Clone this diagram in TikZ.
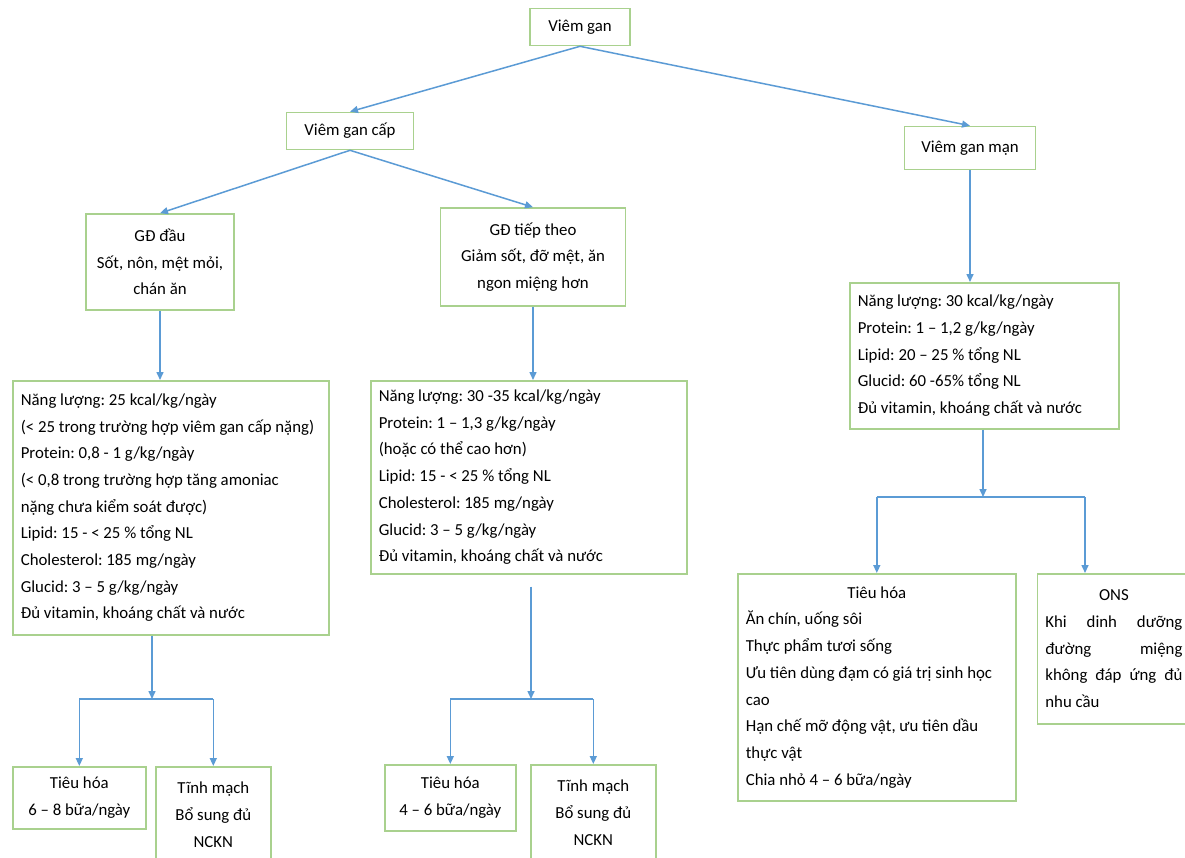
\documentclass[tikz,border=0pt]{standalone}
\usepackage{fontspec}
\setmainfont{Carlito}
\usetikzlibrary{arrows.meta, positioning}
\definecolor{boxgreen}{HTML}{A9D18E}
\definecolor{lineblue}{HTML}{5B9BD5}
\tikzstyle{block} = [rectangle, draw=boxgreen, line width=1.6pt, align=center, inner xsep=8pt, inner ysep=4pt, font=\fontsize{16.8}{26.7}\selectfont, text=black, execute at begin node={\spaceskip=0pt\xspaceskip=0pt\frenchspacing}]
\tikzstyle{infobox} = [block, align=left, anchor=north west]
\tikzstyle{arrow} = [draw=lineblue, line width=1.5pt, -{Triangle[length=8pt,width=7pt]}]
\tikzstyle{link} = [draw=lineblue, line width=1.5pt]

\begin{document}
\begin{tikzpicture}[x=1pt, y=-1pt]
  \useasboundingbox (0,0) rectangle (1185,857);
  \fill[white] (0,0) rectangle (1185,857);
  \clip (0,0) rectangle (1185,857);

  % Cây phân loại
  \node[block, minimum width=100pt, minimum height=37pt] (vg) at (580,27) {Viêm gan};
  \node[block, minimum width=127pt, minimum height=37pt] (vgc) at (350,131) {Viêm gan cấp};
  \node[block, minimum width=131pt, minimum height=43pt] (vgm) at (970,148) {Viêm gan mạn};
  \node[block, minimum width=148pt, minimum height=96pt] (gdd) at (160,262) {GĐ đầu\\Sốt, nôn, mệt mỏi,\\chán ăn};
  \node[block, minimum width=185pt, minimum height=98pt] (gdt) at (533,257) {GĐ tiếp theo\\Giảm sốt, đỡ mệt, ăn\\ngon miệng hơn};

  % Nhu cầu dinh dưỡng
  \node[infobox, text width=300pt, minimum height=254pt] (cl) at (12,380) {Năng lượng: 25 kcal/kg/ngày\\(< 25 trong trường hợp viêm gan cấp nặng)\\Protein: 0,8 - 1 g/kg/ngày\\(< 0,8 trong trường hợp tăng amoniac\\nặng chưa kiểm soát được)\\Lipid: 15 - < 25 \% tổng NL\\Cholesterol: 185 mg/ngày\\Glucid: 3 – 5 g/kg/ngày\\Đủ vitamin, khoáng chất và nước};
  \node[infobox, text width=300pt, minimum height=193pt] (cm) at (370,380) {Năng lượng: 30 -35 kcal/kg/ngày\\Protein: 1 – 1,3 g/kg/ngày\\(hoặc có thể cao hơn)\\Lipid: 15 - < 25 \% tổng NL\\Cholesterol: 185 mg/ngày\\Glucid: 3 – 5 g/kg/ngày\\Đủ vitamin, khoáng chất và nước};
  \node[infobox, text width=253pt, minimum height=146pt] (cr) at (849,282) {Năng lượng: 30 kcal/kg/ngày\\Protein: 1 – 1,2 g/kg/ngày\\Lipid: 20 – 25 \% tổng NL\\Glucid: 60 -65\% tổng NL\\Đủ vitamin, khoáng chất và nước};

  % Đường nuôi dưỡng
  \node[block, minimum width=133pt, minimum height=62pt, anchor=north west] (thl) at (12,766) {Tiêu hóa\\6 – 8 bữa/ngày};
  \node[block, minimum width=115pt, minimum height=96pt, anchor=north west] (tml) at (155,766) {Tĩnh mạch\\Bổ sung đủ\\NCKN};
  \node[block, minimum width=131pt, minimum height=66pt, anchor=north west] (thm) at (384,764) {Tiêu hóa\\4 – 6 bữa/ngày};
  \node[block, minimum width=125pt, minimum height=96pt, anchor=north west] (tmm) at (530,764) {Tĩnh mạch\\Bổ sung đủ\\NCKN};
  \node[infobox, text width=262pt, minimum height=227pt] (thr) at (737,573) {\makebox[\linewidth]{Tiêu hóa}\\Ăn chín, uống sôi\\Thực phẩm tươi sống\\Ưu tiên dùng đạm có giá trị sinh học\\cao\\Hạn chế mỡ động vật, ưu tiên dầu\\thực vật\\Chia nhỏ 4 – 6 bữa/ngày};
  \node[infobox, text width=137pt, minimum height=150pt, right=20pt of thr.north east, anchor=north west] (ons) {\makebox[\linewidth]{ONS}\\\makebox[\linewidth][s]{Khi dinh dưỡng}\\\makebox[\linewidth][s]{đường miệng}\\\makebox[\linewidth][s]{không đáp ứng đủ}\\nhu cầu};

  % Mũi tên cây phân loại
  \draw[arrow] (vg.south) -- (vgc.north);
  \draw[arrow] (vg.south) -- (vgm.north);
  \draw[arrow] (vgc.south) -- (gdd.north);
  \draw[arrow] (vgc.south) -- (gdt.north);
  \draw[arrow] (gdd.south) -- (gdd.south |- cl.north);
  \draw[arrow] (gdt.south) -- (gdt.south |- cm.north);
  \draw[arrow] (vgm.south) -- (vgm.south |- cr.north);

  % Mũi tên rẽ nhánh
  \coordinate (jl) at (152,699);
  \coordinate (jm) at (531,699);
  \coordinate (jr) at (983,497);
  \coordinate (jrr) at (1085,497);
  \draw[arrow] (jl |- cl.south) -- (jl);
  \draw[link] (jl -| thl.north) -- (jl -| tml.north);
  \draw[arrow] (jl -| thl.north) -- (thl.north);
  \draw[arrow] (jl -| tml.north) -- (tml.north);

  \draw[arrow, shorten <=12pt] (jm |- cm.south) -- (jm);
  \draw[link] (jm -| thm.north) -- (jm -| tmm.north);
  \draw[arrow] (jm -| thm.north) -- (thm.north);
  \draw[arrow] (jm -| tmm.north) -- (tmm.north);

  \draw[arrow] (jr |- cr.south) -- (jr);
  \draw[link] (jr -| thr.north) -- (jrr);
  \draw[arrow] (jr -| thr.north) -- (thr.north);
  \draw[arrow] (jrr) -- (jrr |- ons.north);
\end{tikzpicture}
\end{document}
